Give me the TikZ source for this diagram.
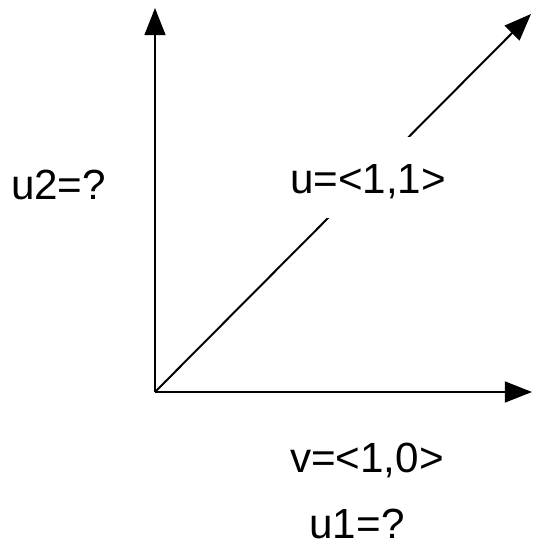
\documentclass[tikz,border=0pt]{standalone}
\usepackage{fontspec}
\setmainfont{Liberation Sans}
\usetikzlibrary{arrows.meta}

\begin{document}
\begin{tikzpicture}[
  vec/.style={line width=1.4pt, -{Triangle[length=0.675cm, width=0.52cm]}},
  lbl/.style={font=\fontsize{30}{36}\selectfont, anchor=base, inner sep=0pt},
  boxlbl/.style={lbl, fill=white, text height=0.76cm, text depth=0pt,
                 inner ysep=0.63cm, inner xsep=0.1cm},
]
\useasboundingbox (-3.875,-3.9) rectangle (9.45,9.8);

% Axes and vectors
\coordinate (o)  at (0,0);
\coordinate (ye) at (0,9.6);
\coordinate (xe) at (9.425,0);
\coordinate (ue) at (9.4,9.45);

\draw[vec] (o) -- (ye);
\draw[vec] (o) -- (xe);
\draw[vec] (o) -- (ue);

% Labels
\node[boxlbl] (ulbl)  at (5.325,4.975) {u=<1,1>};
\node[lbl]    (u2lbl) at (-2.41,4.825) {u2=?};
\node[lbl]    (vlbl)  at (5.3,-2.0)    {v=<1,0>};
\node[lbl]    (u1lbl) at (5.05,-3.66)  {u1=?};

\end{tikzpicture}
\end{document}
